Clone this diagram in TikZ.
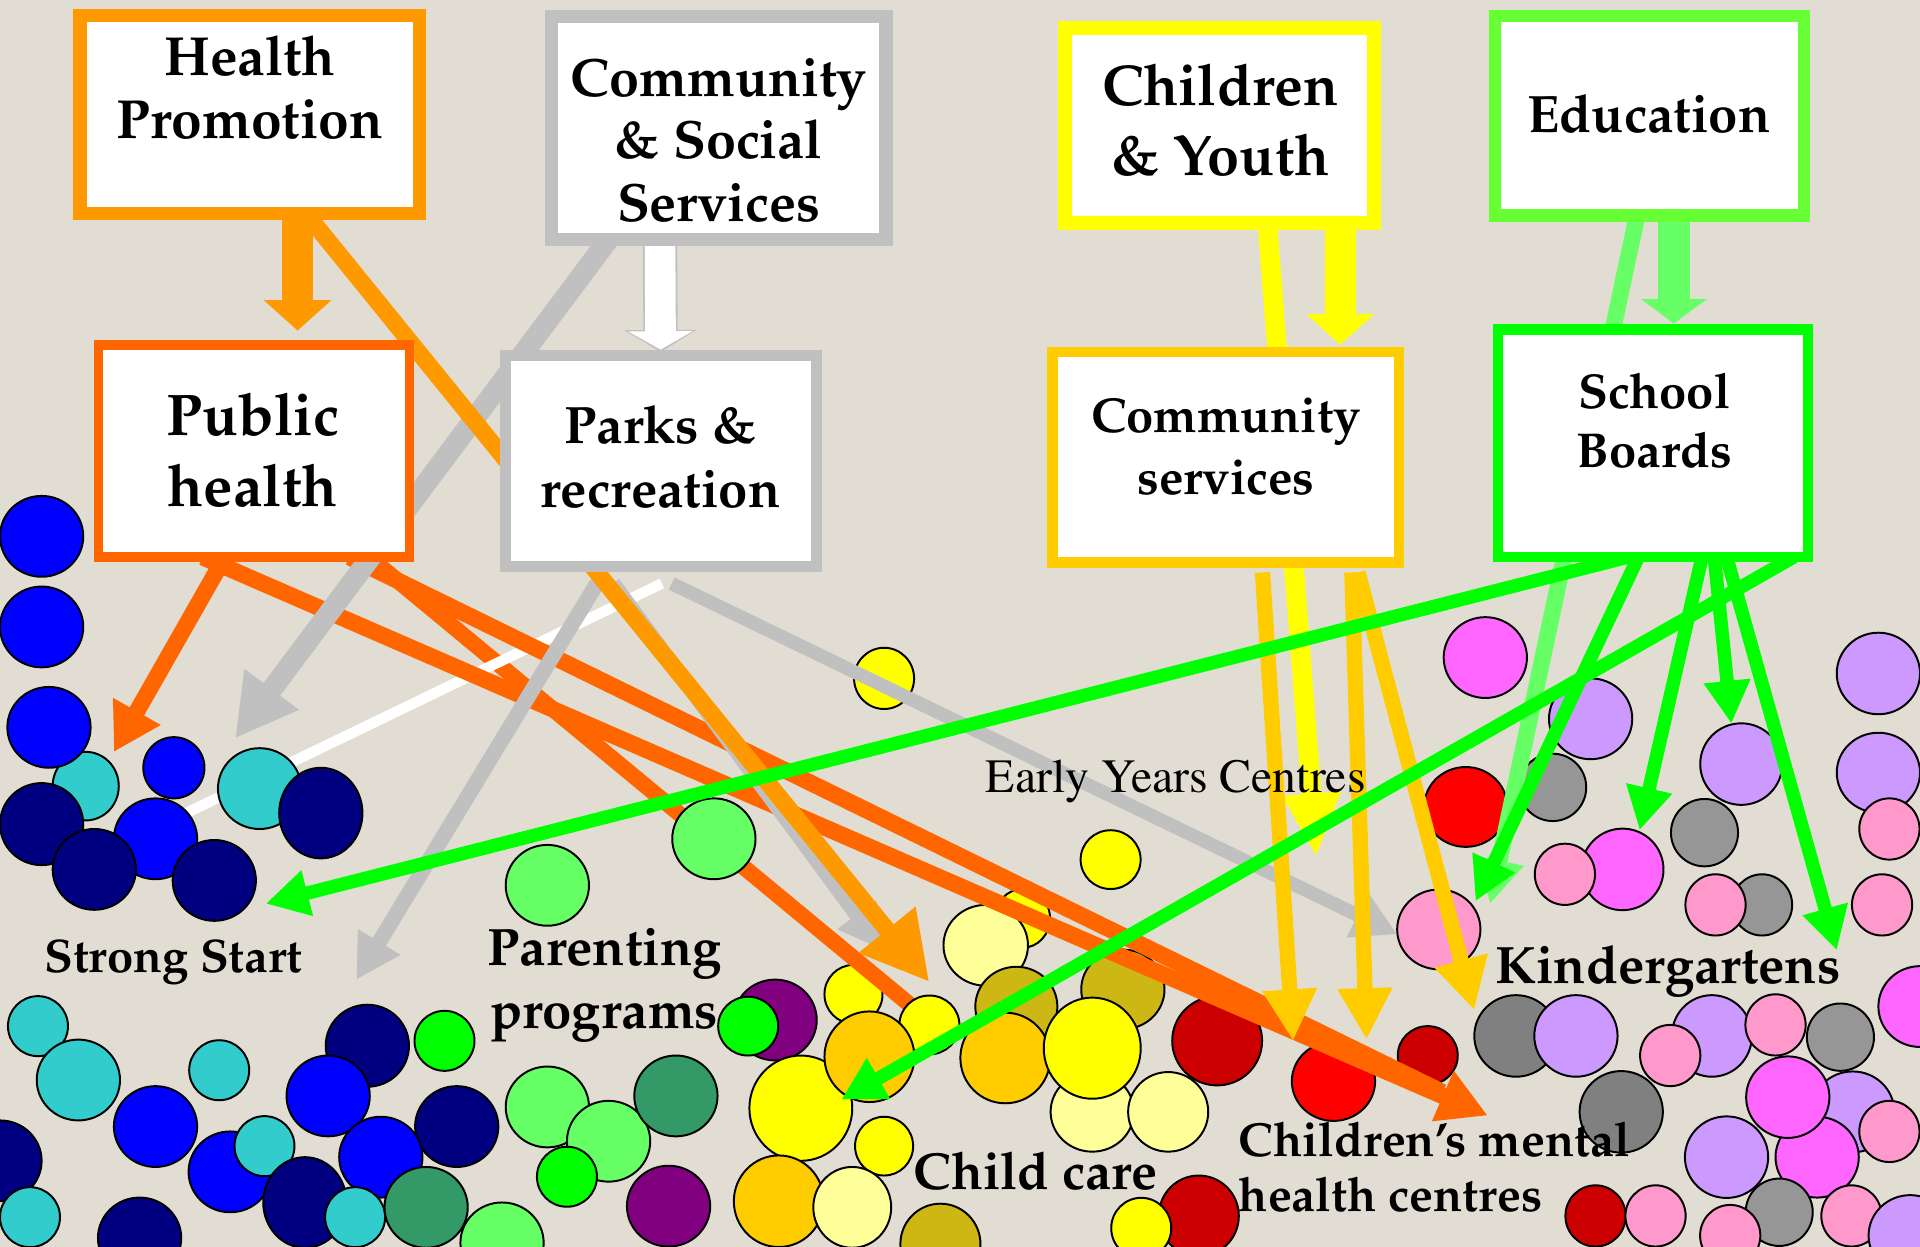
\documentclass[tikz,border=0pt]{standalone}
\usepackage[T1]{fontenc}
\renewcommand{\rmdefault}{ppl}
\usetikzlibrary{arrows.meta}
\definecolor{bgc}{RGB}{226,221,210}
\definecolor{cHP}{HTML}{FF9900}
\definecolor{cGray}{HTML}{C0C0C0}
\definecolor{cY}{HTML}{FFFF00}
\definecolor{cEd}{HTML}{66FF33}
\definecolor{cPH}{HTML}{FF6600}
\definecolor{cCS}{HTML}{FFCC00}
\definecolor{cSB}{HTML}{00FF00}
\definecolor{cLG}{HTML}{66FF66}
\definecolor{blu}{HTML}{0000FF}
\definecolor{nav}{HTML}{000080}
\definecolor{cya}{HTML}{33CCCC}
\definecolor{dgr}{HTML}{339966}
\definecolor{lgr}{HTML}{66FF66}
\definecolor{bgr}{HTML}{00FF00}
\definecolor{pur}{HTML}{800080}
\definecolor{yel}{HTML}{FFFF00}
\definecolor{lye}{HTML}{FFFF99}
\definecolor{gol}{HTML}{FFCC00}
\definecolor{oli}{RGB}{204,183,20}
\definecolor{dre}{HTML}{CC0000}
\definecolor{red}{HTML}{FF0000}
\definecolor{pnk}{HTML}{FF99CC}
\definecolor{mag}{HTML}{FF66FF}
\definecolor{lav}{HTML}{CC99FF}
\definecolor{gry}{HTML}{969696}
\definecolor{dgy}{HTML}{808080}
\pgfdeclarelayer{circ}\pgfdeclarelayer{lowl}\pgfdeclarelayer{fcirc}\pgfdeclarelayer{lin}
\pgfsetlayers{circ,lowl,fcirc,lin,main}
\newcommand{\bubl}[5]{\path[bub,fill=#1] (#2,#3) ellipse (#4pt and #5pt);}
\begin{document}
\begin{tikzpicture}[x=1pt,y=-1pt,
  box/.style={draw,fill=white,outer sep=0pt,inner sep=0pt},
  bub/.style={draw=black,line width=1.6pt},
  tx/.style={inner sep=0pt,anchor=base,font={\fontsize{#1}{#1}\selectfont\bfseries}},
  lb/.style={inner sep=0pt,anchor=base west,font={\fontsize{#1}{#1}\selectfont\bfseries}},
  grn/.style={cSB,line width=11pt,-{Triangle[length=35pt,width=36pt]}}]
\useasboundingbox (0,0) rectangle (1568,1018);
% ---------- boxes ----------
\node[box,draw=cHP,line width=11pt,minimum width=277pt,minimum height=162pt] (hp) at (204,93.5) {};
\node[box,draw=cGray,line width=11pt,minimum width=273pt,minimum height=182pt] (css) at (587,104.5) {};
\node[box,draw=cY,line width=11.5pt,minimum width=252.5pt,minimum height=159.5pt] (cy) at (996,102.5) {};
\node[box,draw=cEd,line width=10pt,minimum width=252pt,minimum height=163pt] (ed) at (1347,94.5) {};
\node[box,draw=cPH,line width=8pt,minimum width=254pt,minimum height=173pt] (ph) at (207.5,368.5) {};
\node[box,draw=cGray,line width=9pt,minimum width=254pt,minimum height=172pt] (pr) at (539.5,376.5) {};
\node[box,draw=cCS,line width=8.8pt,minimum width=283pt,minimum height=172pt] (cs) at (1001,373.5) {};
\node[box,draw=cSB,line width=8.4pt,minimum width=253.6pt,minimum height=185.6pt] (sb) at (1350,362) {};
% ---------- box texts ----------
\node[tx=45] (hp1) at (204,61.4) {Health};
\node[tx=45] (hp2) at (204,113.2) {Promotion};
\node[tx=44] (css1) at (587,78.5) {Community};
\node[tx=44] (css2) at (587,129.4) {\& Social};
\node[tx=44] (css3) at (587,181.2) {Services};
\node[tx=47] (cy1) at (996.6,86.2) {Children};
\node[tx=47] (cy2) at (996.6,143.2) {\& Youth};
\node[tx=43] (ed1) at (1346.6,108.4) {Education};
\node[tx=48] (ph1) at (206.5,355.8) {Public};
\node[tx=48] (ph2) at (206.5,413.3) {health};
\node[tx=43] (pr1) at (539.3,361.8) {Parks \&};
\node[tx=43] (pr2) at (539.3,414.8) {recreation};
\node[tx=40] (cs1) at (1001.2,352.8) {Community};
\node[tx=40] (cs2) at (1001.2,403.7) {services};
\node[tx=40] (sb1) at (1351,333.9) {School};
\node[tx=40] (sb2) at (1351,381.8) {Boards};
% ---------- labels ----------
\node[tx=38.5] (lss) at (141.5,794.5) {Strong Start};
\node[lb=43] (lpp1) at (398,788.6) {Parenting};
\node[lb=43] (lpp2) at (400,839.8) {programs};
\node[inner sep=0pt,anchor=base west,font={\fontsize{39}{39}\fontfamily{ptm}\selectfont}] (ley) at (805,647) {Early Years Centres};
\node[lb=43] (lkg) at (1221,803) {Kindergartens};
\node[lb=42.5] (lcc) at (746,971) {Child care};
\node[lb=39] (lmh1) at (1011.5,944.7) {Children's mental};
\node[lb=39] (lmh2) at (1011.5,989.3) {health centres};
% ---------- free ends ----------
\coordinate (l3end) at (757,832);
\coordinate (gend) at (150,665);
\coordinate (tC) at (192,603);
\coordinate (tB) at (759,802);
\coordinate (tE) at (291,800);
\coordinate (tF) at (721,776);
\coordinate (tH) at (1141,763);
\coordinate (tI) at (93,614);
\coordinate (tL) at (1215,911);
\coordinate (l2end) at (1178,892);
\coordinate (tLy) at (1075,700);
\coordinate (tM) at (1056,850);
\coordinate (tN) at (1116,849);
\coordinate (tO) at (1204,825);
\coordinate (tQ) at (1217,738);
\coordinate (tR) at (217,738);
\coordinate (tS) at (687,898);
\coordinate (tT) at (1205,736);
\coordinate (tU) at (1339,678);
\coordinate (tV) at (1414,591);
\coordinate (tW) at (1500,776);
% ---------- background circles ----------
\begin{pgfonlayer}{circ}
\fill[bgc] (0,0) rectangle (1568,1018);
\bubl{cya}{31}{838}{24.5}{24.5}
\bubl{cya}{64}{882}{34}{33}
\bubl{cya}{179}{874}{24.5}{24.5}
\bubl{nav}{300}{854}{34}{33.5}
\bubl{bgr}{363}{850}{24.5}{24.5}
\bubl{blu}{127}{920}{34}{33}
\bubl{nav}{0}{948}{34}{33}
\bubl{blu}{188}{957}{34}{33}
\bubl{cya}{216}{936}{24.5}{24.5}
\bubl{blu}{268}{895}{34}{33}
\bubl{nav}{373}{920}{34}{33}
\bubl{blu}{311}{945}{34}{33}
\bubl{nav}{249}{982}{34}{37}
\bubl{cya}{290}{994}{24.5}{24.5}
\bubl{dgr}{348}{986}{34}{33}
\bubl{cya}{24.5}{994}{24.5}{24.5}
\bubl{nav}{114}{1011}{34}{33}
\bubl{lgr}{410}{1015}{34}{33}
\bubl{lgr}{447}{904}{34}{33}
\bubl{lgr}{497}{932}{34}{33}
\bubl{dgr}{552}{895}{34}{33}
\bubl{bgr}{463}{961}{24.5}{24.5}
\bubl{pur}{546}{985}{34}{33}
\bubl{lgr}{447}{723}{34}{33}
\bubl{yel}{722}{554}{24.5}{25}
\bubl{yel}{907}{702}{24.5}{24}
\bubl{pur}{633}{833}{34}{33}
\bubl{bgr}{611}{838}{24.5}{24}
\bubl{yel}{835}{750}{22.5}{24}
\bubl{lye}{805}{772}{34.5}{33}
\bubl{oli}{830}{822}{33.5}{32.5}
\bubl{oli}{917}{808}{34}{32.5}
\bubl{yel}{697}{812}{23.7}{24}
\bubl{yel}{654}{905}{42}{43}
\bubl{gol}{821}{864}{36.7}{37}
\bubl{lye}{892}{908}{34}{32.5}
\bubl{lye}{954}{908}{32.7}{32.5}
\bubl{yel}{892}{856}{39.6}{41.3}
\bubl{dre}{994}{850}{36.7}{36.4}
\bubl{yel}{722}{936}{23.7}{24}
\bubl{gol}{636}{981}{36.7}{37.4}
\bubl{lye}{696}{986}{31.8}{33}
\bubl{oli}{768}{1016}{32.7}{33}
\bubl{dre}{979}{993}{32.7}{33}
\bubl{yel}{932}{1003}{24.5}{24.8}
\bubl{red}{1089}{883}{34}{32.4}
\bubl{dre}{1166}{862}{24.5}{24}
\bubl{mag}{1213}{537}{34}{33}
\bubl{gry}{1268}{643}{27.4}{27.5}
\bubl{lav}{1299}{587}{34}{33}
\bubl{red}{1197}{659}{34}{32.6}
\bubl{pnk}{1175}{759}{34}{32.6}
\bubl{mag}{1325}{710}{33.5}{33.3}
\bubl{pnk}{1278}{714}{24.6}{25}
\bubl{lav}{1422}{624}{33.5}{33.3}
\bubl{gry}{1392}{680}{27.4}{27.5}
\bubl{gry}{1439}{739}{24.6}{25}
\bubl{pnk}{1401}{739}{24.6}{25}
\bubl{lav}{1534}{550}{34}{33.3}
\bubl{lav}{1534}{631}{34}{32.6}
\bubl{pnk}{1543}{677}{24.6}{25}
\bubl{pnk}{1537}{739}{24.6}{25}
\bubl{dgy}{1238}{846}{34}{33.3}
\bubl{lav}{1287}{846}{34}{33.3}
\bubl{lav}{1398}{846}{32.7}{33.3}
\bubl{pnk}{1364}{862}{24.6}{25}
\bubl{pnk}{1450}{837}{24.6}{25}
\bubl{gry}{1503}{847}{27.4}{27.5}
\bubl{mag}{1568}{822}{34}{33}
\bubl{dgy}{1324}{908}{34}{33.3}
\bubl{lav}{1513}{908}{34}{33}
\bubl{mag}{1484}{945}{34}{33}
\bubl{mag}{1460}{896}{34}{33.3}
\bubl{pnk}{1543}{924}{24.6}{25}
\bubl{lav}{1410}{945}{34}{33.3}
\bubl{gry}{1453}{990}{27.4}{27.5}
\bubl{pnk}{1413}{1009}{24.6}{25}
\bubl{dre}{1303}{993}{24.6}{25}
\bubl{pnk}{1352}{993}{24.6}{25}
\bubl{pnk}{1512}{993}{24.6}{25}
\bubl{lav}{1560}{1009}{34}{33}
\end{pgfonlayer}
% ---------- lines hidden under front circles ----------
\begin{pgfonlayer}{lowl}
\draw[cPH,line width=13pt] ([xshift=94pt]ph.south) -- (l3end);
\draw[white,line width=8.5pt] ([xshift=1pt,yshift=-14pt]pr.south) -- (gend);
\end{pgfonlayer}
% ---------- front circles ----------
\begin{pgfonlayer}{fcirc}
\bubl{cya}{70}{642}{27}{28}
\bubl{blu}{34}{438}{34}{33}
\bubl{blu}{34}{512}{34}{33}
\bubl{blu}{40}{594}{34}{33}
\bubl{blu}{142}{627}{25}{25}
\bubl{cya}{212}{644}{34}{33}
\bubl{nav}{262}{664}{34}{37}
\bubl{nav}{34}{673}{34}{33.5}
\bubl{blu}{127}{685}{34}{33}
\bubl{nav}{77}{710}{34}{33}
\bubl{nav}{175}{719}{34}{33}
\bubl{lgr}{583}{685}{34}{33}
\bubl{yel}{759}{837}{24.5}{24}
\bubl{gol}{710}{863}{36.7}{37}
\end{pgfonlayer}
% ---------- connectors ----------
\begin{pgfonlayer}{lin}
\draw[cPH,line width=13.5pt,-{Triangle[length=38pt,width=42pt]}] ([xshift=-24pt]ph.south) -- (tI);
\draw[cPH,line width=13.5pt,-{Triangle[length=40pt,width=42pt]}] ([xshift=-42pt]ph.south) -- (tL);
\draw[cPH,line width=13.5pt] ([xshift=78pt]ph.south) -- (l2end);
\draw[cGray,line width=17pt,-{Triangle[length=50pt,width=52pt]}] ([xshift=-90pt]css.south) -- (tC);
\draw[cGray,line width=12.5pt,-{Triangle[length=36pt,width=38pt]}] ([xshift=-52pt,yshift=-14pt]pr.south) -- (tE);
\draw[cGray,line width=12.5pt,-{Triangle[length=36pt,width=37pt]}] ([xshift=-39pt,yshift=-14pt]pr.south) -- (tF);
\draw[cGray,line width=11pt,-{Triangle[length=36pt,width=38pt]}] ([xshift=9pt,yshift=-14pt]pr.south) -- (tH);
\draw[cHP,line width=14pt,-{Triangle[length=55pt,width=56pt]}] ([xshift=46pt]hp.south) -- (tB);
\draw[cY,line width=16pt,-{Triangle[length=52pt,width=44pt]}] ([xshift=39pt]cy.south) -- (tLy);
\draw[cCS,line width=12.5pt,-{Triangle[length=42pt,width=42pt]}] ([xshift=30pt,yshift=-8pt]cs.south) -- (tM);
\draw[cCS,line width=12.5pt,-{Triangle[length=42pt,width=42pt]}] ([xshift=103pt,yshift=-8pt]cs.south) -- (tN);
\draw[cCS,line width=12.5pt,-{Triangle[length=42pt,width=42pt]}] ([xshift=108pt,yshift=-8pt]cs.south) -- (tO);
\draw[cLG,line width=13.5pt,-{Triangle[length=36pt,width=38pt]}] ([xshift=-10pt]ed.south) -- (tQ);
\draw[grn] ([xshift=-20pt]sb.south) -- (tR);
\draw[grn] ([xshift=115pt]sb.south) -- (tS);
\draw[grn] ([xshift=-12pt]sb.south) -- (tT);
\draw[grn] ([xshift=40pt]sb.south) -- (tU);
\draw[grn] ([xshift=50pt]sb.south) -- (tV);
\draw[grn] ([xshift=60pt]sb.south) -- (tW);
% block arrows between boxes
\draw[cHP,line width=26pt,-{Triangle[length=25pt,width=54pt]}] ([xshift=39pt]hp.south) -- ([xshift=35.5pt,yshift=12pt]ph.north);
\draw[cGray,line width=28pt,-{Triangle[length=18pt,width=58pt]}] ([xshift=-48pt]css.south) -- ([yshift=3pt]pr.north);
\draw[white,line width=25pt,-{Triangle[length=15pt,width=52pt]}] ([xshift=-48pt]css.south) -- ([yshift=5pt]pr.north);
\draw[cY,line width=25pt,-{Triangle[length=25pt,width=54pt]}] ([xshift=98.5pt]cy.south) -- ([xshift=93.5pt,yshift=6pt]cs.north);
\draw[cLG,line width=26pt,-{Triangle[length=20pt,width=53pt]}] ([xshift=20pt]ed.south) -- ([xshift=17pt,yshift=5pt]sb.north);
\end{pgfonlayer}
\end{tikzpicture}
\end{document}
